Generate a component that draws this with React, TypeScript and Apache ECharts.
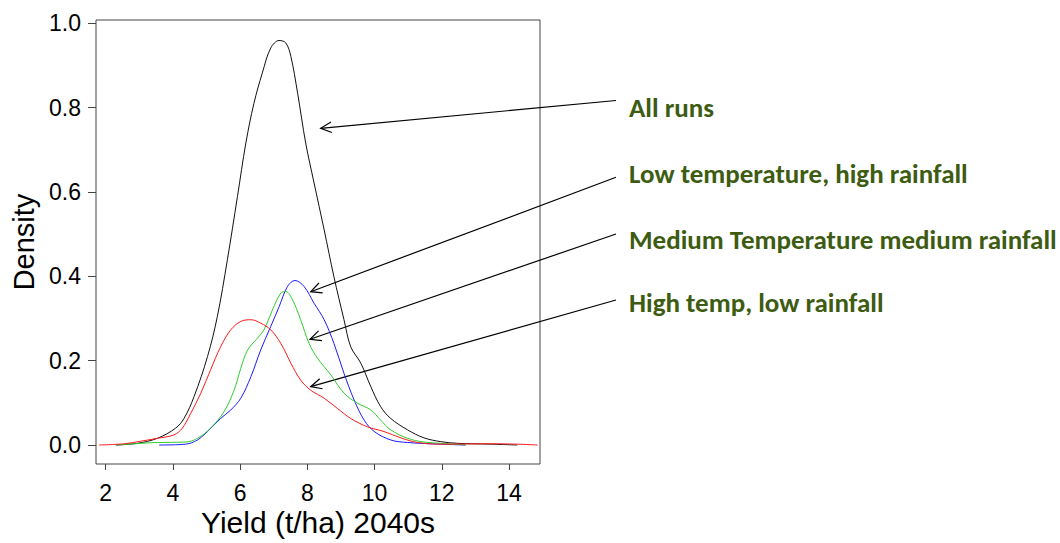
import React, { useEffect, useRef } from "react";
import * as echarts from "echarts";

// Tick values
const xTicks = [2, 4, 6, 8, 10, 12, 14];
const yTicks = [0, 0.2, 0.4, 0.6, 0.8, 1.0];

// Density curves: [yield (t/ha), density]
const allRuns: number[][] = [
  [2.3, 0], [2.94, 0.004], [3.54, 0.016], [4.08, 0.04], [4.33, 0.063], [4.63, 0.115],
  [5.03, 0.21], [5.32, 0.304], [5.62, 0.439], [5.92, 0.589], [6.17, 0.716], [6.41, 0.81],
  [6.66, 0.882], [6.91, 0.941], [7.16, 0.959], [7.36, 0.953], [7.51, 0.921], [7.71, 0.834],
  [7.95, 0.716], [8.2, 0.621], [8.5, 0.51], [8.79, 0.399], [9.09, 0.297], [9.29, 0.233],
  [9.59, 0.194], [9.89, 0.138], [10.18, 0.091], [10.48, 0.063], [10.98, 0.036], [11.47, 0.017],
  [11.97, 0.008], [12.47, 0.004], [13.46, 0.002], [14.25, 0],
];
const lowTempHighRain: number[][] = [
  [3.59, 0], [4.38, 0.002], [4.73, 0.012], [5.03, 0.032], [5.42, 0.063], [5.72, 0.083],
  [6.02, 0.111], [6.32, 0.162], [6.61, 0.225], [6.91, 0.281], [7.16, 0.328], [7.41, 0.376],
  [7.63, 0.39], [7.9, 0.376], [8.2, 0.336], [8.5, 0.297], [8.79, 0.241], [9.09, 0.17],
  [9.39, 0.107], [9.69, 0.059], [9.99, 0.032], [10.48, 0.012], [10.98, 0.006], [11.97, 0.002],
  [12.71, 0],
];
const medTempMedRain: number[][] = [
  [2.3, 0], [3.04, 0.004], [3.54, 0.006], [4.38, 0.007], [4.73, 0.016], [5.12, 0.04],
  [5.52, 0.079], [5.82, 0.13], [6.02, 0.182], [6.22, 0.225], [6.51, 0.253], [6.71, 0.273],
  [6.96, 0.32], [7.21, 0.36], [7.36, 0.364], [7.56, 0.344], [7.8, 0.297], [8.05, 0.241],
  [8.3, 0.206], [8.7, 0.166], [9.09, 0.123], [9.49, 0.099], [9.89, 0.083], [10.18, 0.059],
  [10.48, 0.036], [10.98, 0.016], [11.47, 0.007], [11.97, 0.004], [12.71, 0],
];
const highTempLowRain: number[][] = [
  [1.8, 0], [2.55, 0.003], [3.04, 0.009], [3.54, 0.016], [4.03, 0.024], [4.28, 0.04],
  [4.53, 0.075], [4.83, 0.123], [5.12, 0.178], [5.42, 0.233], [5.72, 0.273], [6.02, 0.293],
  [6.32, 0.297], [6.61, 0.289], [6.91, 0.273], [7.21, 0.241], [7.51, 0.194], [7.8, 0.154],
  [8.1, 0.13], [8.5, 0.111], [8.89, 0.087], [9.29, 0.063], [9.79, 0.043], [10.28, 0.032],
  [10.78, 0.017], [11.28, 0.006], [11.97, 0.002], [13.46, 0.003], [14.25, 0.002], [14.85, 0],
];

const labels = [
  "All runs",
  "Low temperature, high rainfall",
  "Medium Temperature medium rainfall",
  "High temp, low rainfall",
];

// annotation layout (pixels)
const labelX = 629;
const labelY = [107, 173, 239, 302];
const arrows = [
  [616, 100.5, 320.7, 128.3],
  [616, 177.3, 310.7, 291.7],
  [616, 234, 310, 339.3],
  [616, 300, 310.7, 386.7],
];

function arrowGraphics() {
  const els: any[] = [];
  arrows.forEach(([x1, y1, x2, y2]) => {
    els.push({
      type: "line",
      shape: { x1, y1, x2, y2 },
      style: { stroke: "#000", lineWidth: 1.2 },
    });
    const ang = Math.atan2(y1 - y2, x1 - x2);
    const len = 12;
    const spread = 0.45;
    els.push({
      type: "polyline",
      shape: {
        points: [
          [x2 + len * Math.cos(ang + spread), y2 + len * Math.sin(ang + spread)],
          [x2, y2],
          [x2 + len * Math.cos(ang - spread), y2 + len * Math.sin(ang - spread)],
        ],
      },
      style: { stroke: "#000", lineWidth: 1.2, fill: "none" },
    });
  });
  labels.forEach((t, i) => {
    els.push({
      type: "text",
      x: labelX,
      y: labelY[i],
      style: {
        text: t,
        fill: "#3D5C12",
        font: "bold 27px Carlito, Lato, sans-serif",
        verticalAlign: "middle",
        align: "left",
      },
    });
  });
  els.push({
    type: "text",
    x: 24,
    y: 242,
    rotation: Math.PI / 2,
    style: {
      text: "Density",
      fill: "#000",
      font: "29px 'Liberation Sans', Arial, sans-serif",
      align: "center",
      verticalAlign: "middle",
    },
  });
  els.push({
    type: "text",
    x: 318,
    y: 522,
    style: {
      text: "Yield (t/ha) 2040s",
      fill: "#000",
      font: "30px 'Liberation Sans', Arial, sans-serif",
      align: "center",
      verticalAlign: "middle",
    },
  });
  return els;
}

export default function App() {
  const ref = useRef<HTMLDivElement>(null);
  useEffect(() => {
    if (!ref.current) return;
    const chart = echarts.init(ref.current, undefined, { renderer: "svg" });
    const lineSeries = (name: string, data: number[][], color: string) => ({
      name,
      type: "line",
      data,
      smooth: 0.35,
      showSymbol: false,
      symbol: "none",
      lineStyle: { color, width: 1 },
      z: 3,
    });
    chart.setOption({
      animation: false,
      backgroundColor: "#fff",
      grid: {
        left: 96,
        top: 20,
        width: 444,
        height: 444,
        show: true,
        borderColor: "#444",
        borderWidth: 1,
        backgroundColor: "transparent",
      },
      xAxis: {
        type: "value",
        min: 1.711,
        max: 14.922,
        axisLine: { show: false, onZero: false },
        splitLine: { show: false },
        axisTick: {
          show: true,
          inside: false,
          length: 6,
          customValues: xTicks,
          lineStyle: { color: "#444" },
        },
        axisLabel: {
          customValues: xTicks,
          color: "#000",
          fontSize: 23,
          fontFamily: "'Liberation Sans', Arial, sans-serif",
          margin: 17,
        },
      },
      yAxis: {
        type: "value",
        min: -0.045,
        max: 1.0075,
        axisLine: { show: false, onZero: false },
        splitLine: { show: false },
        axisTick: {
          show: true,
          inside: false,
          length: 8,
          customValues: yTicks,
          lineStyle: { color: "#444" },
        },
        axisLabel: {
          customValues: yTicks,
          color: "#000",
          fontSize: 23,
          fontFamily: "'Liberation Sans', Arial, sans-serif",
          margin: 15,
          formatter: (v: number) => v.toFixed(1),
        },
      },
      series: [
        lineSeries(labels[0], allRuns, "#111111"),
        lineSeries(labels[1], lowTempHighRain, "#1a1aff"),
        lineSeries(labels[2], medTempMedRain, "#2ecc2e"),
        lineSeries(labels[3], highTempLowRain, "#ff1a1a"),
      ],
      graphic: arrowGraphics(),
    });
    return () => chart.dispose();
  }, []);
  return (
    <div
      ref={ref}
      style={{ position: "fixed", left: 0, top: 0, width: 1060, height: 543, background: "#fff" }}
    />
  );
}
